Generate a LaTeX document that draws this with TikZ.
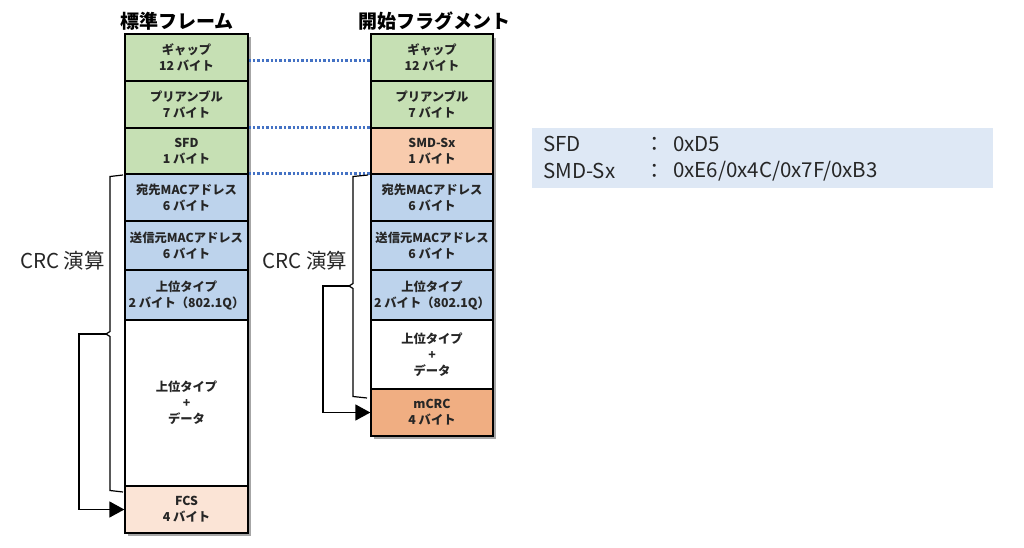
\documentclass[tikz,border=0pt]{standalone}
\usepackage{fontspec}
\setmainfont{Noto Sans CJK JP}
\usetikzlibrary{arrows.meta}
\definecolor{cgreen}{HTML}{C6E0B4}
\definecolor{cblue}{HTML}{BDD3EC}
\definecolor{cpeach}{HTML}{F8CBAD}
\definecolor{clpeach}{HTML}{FBE4D6}
\definecolor{corange}{HTML}{F0AE82}
\definecolor{cinfo}{HTML}{DEE8F5}
\definecolor{cdot}{HTML}{4472C4}
\definecolor{ctext}{HTML}{262626}
\begin{document}
\begin{tikzpicture}[x=1pt,y=-1pt,
  cell/.style={draw=black,line width=1.3pt,minimum width=123pt,inner sep=0pt,
    align=center,text=ctext,font=\fontsize{12.3}{16}\selectfont\bfseries},
  title/.style={font=\fontsize{19}{22}\selectfont\bfseries,text=black},
  crc/.style={font=\fontsize{20.5}{24}\selectfont,text=ctext,inner sep=0pt},
  info/.style={font=\fontsize{20.5}{24}\selectfont,text=ctext,inner sep=0pt},
  brk/.style={line width=1.2pt,draw=black},
  arr/.style={line width=1.4pt,draw=black,-{Triangle[length=15pt,width=16pt]}},
  dotl/.style={line width=3pt,draw=cdot,dash pattern=on 2.4pt off 2pt}]
\useasboundingbox (0,0) rectangle (1024,548);
% shadows
\fill[black!35] (128,37) rectangle (251,536);
\fill[black!35] (374,38) rectangle (496,439);
% left column
\node[cell,fill=cgreen,minimum height=47pt] (gapL) at (186.5,57.5) {ギャップ\\12 バイト};
\node[cell,fill=cgreen,minimum height=47pt] (preL) at (186.5,104.5) {プリアンブル\\7 バイト};
\node[cell,fill=cgreen,minimum height=46pt] (sfdL) at (186.5,151) {SFD\\1 バイト};
\node[cell,fill=cblue,minimum height=47pt] (dmacL) at (186.5,197.5) {宛先MACアドレス\\6 バイト};
\node[cell,fill=cblue,minimum height=49pt] (smacL) at (186.5,245.5) {送信元MACアドレス\\6 バイト};
\node[cell,fill=cblue,minimum height=50pt] (typeL) at (186.5,295) {上位タイプ\\2 バイト（802.1Q）};
\node[cell,fill=white,minimum height=166pt] (dataL) at (186.5,403) {上位タイプ\\+\\データ};
\node[cell,fill=clpeach,minimum height=47pt] (fcsL) at (186.5,509.5) {FCS\\4 バイト};
% right column
\node[cell,fill=cgreen,minimum height=47pt,minimum width=122pt] (gapR) at (432,57.5) {ギャップ\\12 バイト};
\node[cell,fill=cgreen,minimum height=47pt,minimum width=122pt] (preR) at (432,104.5) {プリアンブル\\7 バイト};
\node[cell,fill=cpeach,minimum height=46pt,minimum width=122pt] (smdR) at (432,151) {SMD-Sx\\1 バイト};
\node[cell,fill=cblue,minimum height=47pt,minimum width=122pt] (dmacR) at (432,197.5) {宛先MACアドレス\\6 バイト};
\node[cell,fill=cblue,minimum height=49pt,minimum width=122pt] (smacR) at (432,245.5) {送信元MACアドレス\\6 バイト};
\node[cell,fill=cblue,minimum height=50pt,minimum width=122pt] (typeR) at (432,295) {上位タイプ\\2 バイト（802.1Q）};
\node[cell,fill=white,minimum height=69pt,minimum width=122pt] (dataR) at (432,354.5) {上位タイプ\\+\\データ};
\node[cell,fill=corange,minimum height=47pt,minimum width=122pt] (mcrcR) at (432,412.5) {mCRC\\4 バイト};
% titles
\node[title] (tL) at (177,21) {標準フレーム};
\node[title] (tR) at (434,21) {開始フラグメント};
% dotted links
\draw[dotl] (gapL.east |- 0,61) -- (gapR.west |- 0,61);
\draw[dotl] (sfdL.north east) -- (smdR.north west);
\draw[dotl] (dmacL.north east) -- (dmacR.north west);
% left bracket and arrow
\coordinate (bLt) at (123,175);
\coordinate (bLm) at (106,334);
\coordinate (bLb) at (123,492);
\draw[brk] (bLt) -- (110,176.5) -- (110,331.5) -- (bLm) -- (110,336.5) -- (110,490.5) -- (bLb);
\draw[arr] (bLm) -- (79,334) |- (fcsL.west);
\node[crc] (crcL) at (62.5,261) {CRC 演算};
% right bracket and arrow
\coordinate (bRt) at (368,175);
\coordinate (bRm) at (349,286);
\coordinate (bRb) at (367,398);
\draw[brk] (bRt) -- (353,176.5) -- (353,283.5) -- (bRm) -- (353,288.5) -- (353,396.5) -- (bRb);
\draw[arr] (bRm) -- (323,286) |- (mcrcR.west);
\node[crc] (crcR) at (305,261) {CRC 演算};
% info box
\fill[cinfo] (532,128) rectangle (993,188);
\node[info,anchor=west] (i1) at (543,144) {SFD};
\node[info,anchor=west] (i2) at (543,171) {SMD-Sx};
\node[info] (c1) at (655,144) {：};
\node[info] (c2) at (655,171) {：};
\node[info,anchor=west] (v1) at (673,144) {0xD5};
\node[info,anchor=west] (v2) at (673,171) {0xE6/0x4C/0x7F/0xB3};
\end{tikzpicture}
\end{document}
